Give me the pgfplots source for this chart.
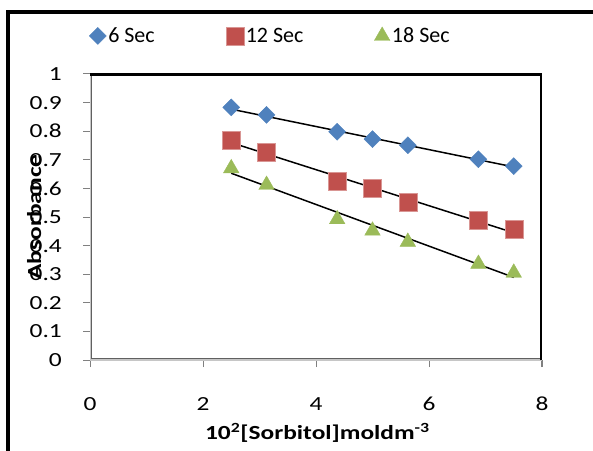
\documentclass[border=0pt]{standalone}
\usepackage{fontspec}
\setmainfont{Carlito}[FakeStretch=1.27]
\newfontfamily\legfont{Carlito}
\usepackage{pgfplots}
\pgfplotsset{compat=1.18}
\definecolor{cblue}{HTML}{4F81BD}
\definecolor{cred}{HTML}{C0504D}
\definecolor{cgreen}{HTML}{9BBB59}
\begin{document}
\begin{tikzpicture}[x=1pt,y=1pt]
\useasboundingbox (0,0) rectangle (593,450);
\draw[line width=4pt] (8,-20) -- (8,438) -- (640,438);
\begin{axis}[
  at={(90pt,90pt)}, anchor=south west,
  width=452pt, height=286pt, scale only axis,
  xmin=0, xmax=8, ymin=0, ymax=1,
  xtick={0,2,4,6,8},
  ytick={0,0.1,...,1},
  axis line style={draw=none},
  tick align=outside, xtick pos=bottom, ytick pos=left,
  major tick length=7pt,
  tick style={draw=gray, line width=1pt},
  font=\fontsize{20}{24}\selectfont,
  /pgf/number format/assume math mode=true,
  yticklabel style={/pgf/number format/fixed, /pgf/number format/precision=1, anchor=east, inner sep=0pt, xshift=-21pt},
  xticklabel style={anchor=north, inner sep=0pt, yshift=-30pt},
  xlabel={\textbf{10\textsuperscript{2}[Sorbitol]moldm\textsuperscript{-3}}},
  ylabel={\textbf{Absorbance}},
  xlabel style={at={(axis description cs:0.503,-0.2797)}, anchor=base, inner sep=0pt},
  ylabel style={at={(axis description cs:-0.1084,0.5)}, anchor=base, inner sep=0pt},
  legend columns=3,
  legend style={draw=none, fill=none, at={(axis description cs:-0.002,1.133)}, anchor=west, inner sep=0pt,
    nodes={inner sep=2pt}, font=\fontsize{22}{26}\legfont,
    /tikz/every even column/.append style={column sep=69pt}},
  legend cell align=left,
  legend image code/.code={\draw[mark repeat=2,mark phase=2,#1] plot coordinates {(0pt,0pt) (6pt,0pt) (12pt,0pt)};},
]
\draw[draw=gray!75!black, double=gray!45, double distance=1.5pt, line width=1pt]
  (rel axis cs:0,1) -- (rel axis cs:0,0) -- (rel axis cs:1,0);
\draw[black, line width=3.5pt] (rel axis cs:0,1) -- (rel axis cs:1,1) -- (rel axis cs:1,0);
\addplot[only marks, mark=square*, mark size=6pt, mark options={rotate=45, fill=cblue, draw=cblue}] coordinates {
  (2.5,0.883) (3.125,0.857) (4.375,0.798) (5,0.772) (5.625,0.751) (6.875,0.702) (7.5,0.678)};
\addlegendentry{6 Sec}
\addplot[only marks, mark=square*, mark size=9pt, mark options={fill=cred, draw=cred!60!white}] coordinates {
  (2.5,0.769) (3.125,0.726) (4.375,0.626) (5,0.600) (5.625,0.551) (6.875,0.490) (7.5,0.456)};
\addlegendentry{12 Sec}
\addplot[only marks, mark=triangle*, mark size=9pt, mark options={fill=cgreen, draw=cgreen}] coordinates {
  (2.5,0.670) (3.125,0.612) (4.375,0.492) (5,0.452) (5.625,0.413) (6.875,0.336) (7.5,0.305)};
\addlegendentry{18 Sec}
\addplot[black, line width=1.5pt, forget plot] coordinates {(2.5,0.877) (7.5,0.675)};
\addplot[black, line width=1.5pt, forget plot] coordinates {(2.5,0.760) (7.5,0.445)};
\addplot[black, line width=1.5pt, forget plot] coordinates {(2.5,0.653) (7.5,0.289)};
\end{axis}
\end{tikzpicture}
\end{document}
